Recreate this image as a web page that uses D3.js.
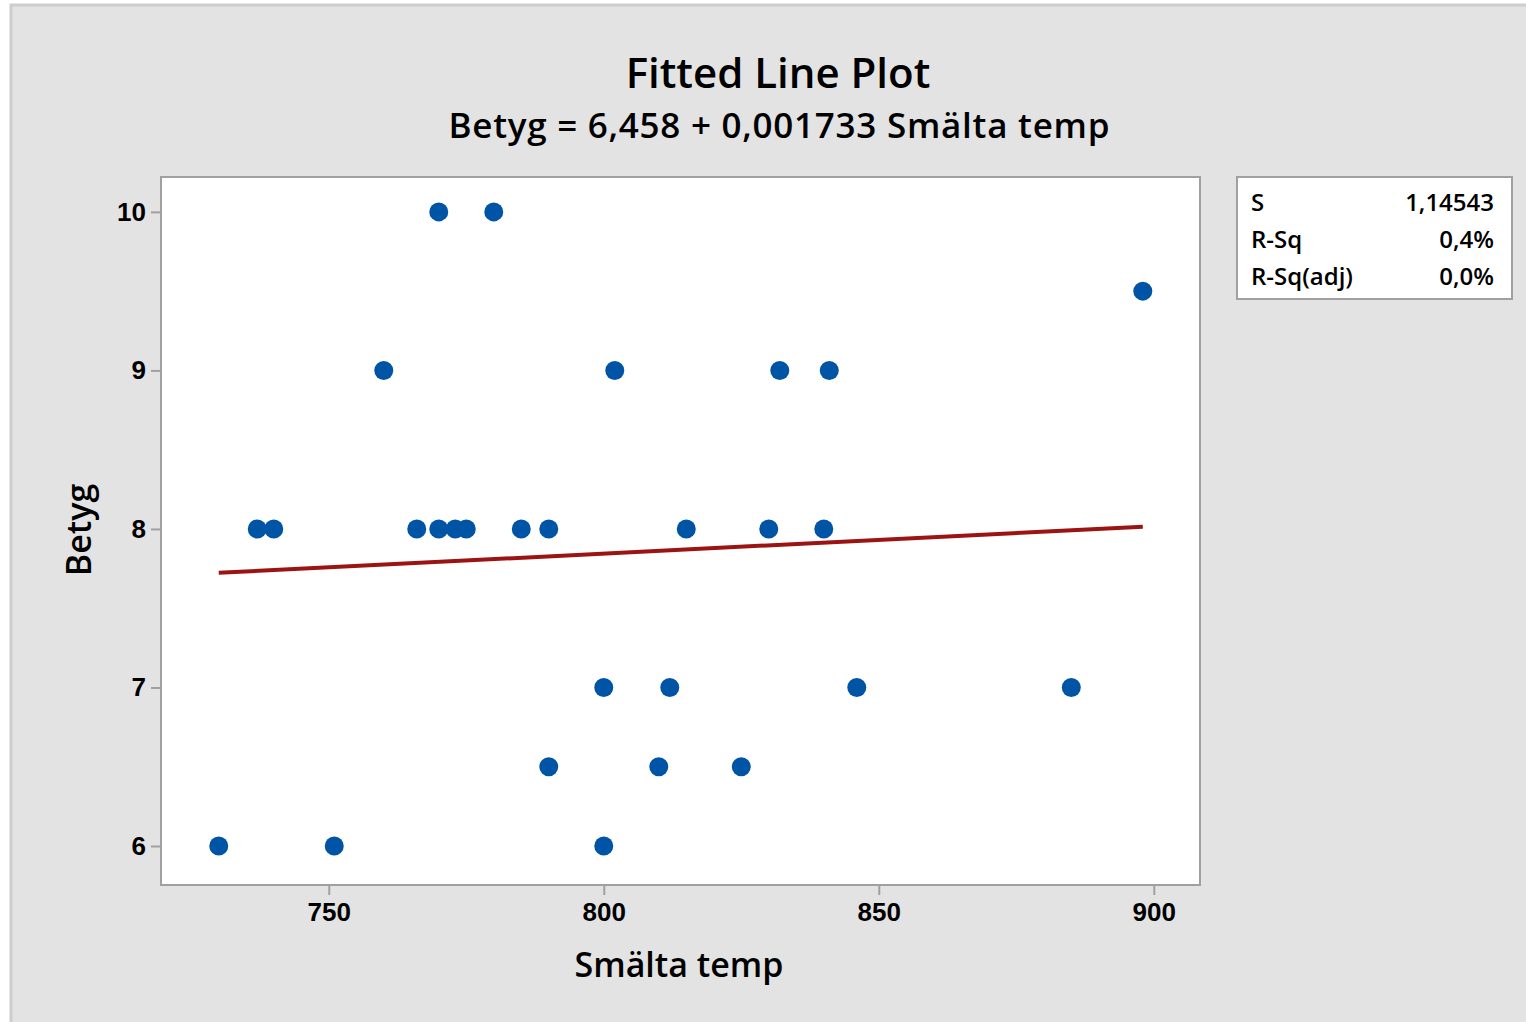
<!DOCTYPE html>
<html><head><meta charset="utf-8">
<script src="https://d3js.org/d3.v7.min.js"></script>
<style>body{margin:0;background:#fff;}svg{display:block;font-family:"Open Sans","Noto Sans",sans-serif;}</style>
</head><body>
<svg id="c" width="1526" height="1022"></svg>
<script>
const temps =  [730,751,737,740,760,766,770,770,773,775,780,785,790,790,800,800,802,810,812,815,825,830,832,840,841,846,885,898];
const grades = [6,  6,  8,  8,  9,  8,  10, 8,  8,  8,  10, 8,  8,  6.5,7,  6,  9,  6.5,7,  8,  6.5,8,  9,  8,  9,  7,  7,  9.5];
const intercept = 6.458, slope = 0.001733;
const xTicks = [750,800,850,900];
const yTicks = [6,7,8,9,10];
const statLabels = ["S","R-Sq","R-Sq(adj)"];
const statValues = ["1,14543","0,4%","0,0%"];

const svg = d3.select("#c");
svg.append("rect").attr("x",11).attr("y",5).attr("width",1520).attr("height",1020)
  .attr("fill","#e3e3e3").attr("stroke","#cdcdcd").attr("stroke-width",3);

const L=161,R=1200,T=177,B=885;
const x = d3.scaleLinear().domain([719.5,908.4]).range([L,R]);
const y = d3.scaleLinear().domain([5.754,10.22]).range([B,T]);

svg.append("rect").attr("x",L).attr("y",T).attr("width",R-L).attr("height",B-T)
  .attr("fill","#fff").attr("stroke","#a0a0a0").attr("stroke-width",2);

const gx = svg.append("g").attr("transform",`translate(0,${B})`)
  .call(d3.axisBottom(x).tickValues(xTicks).tickSize(10).tickPadding(3).tickFormat(d3.format("d")));
const gy = svg.append("g").attr("transform",`translate(${L},0)`)
  .call(d3.axisLeft(y).tickValues(yTicks).tickSize(10).tickPadding(5).tickFormat(d3.format("d")));
[gx,gy].forEach(g=>{
  g.select(".domain").remove();
  g.selectAll(".tick line").attr("stroke","#a0a0a0").attr("stroke-width",2);
  g.selectAll(".tick text").attr("fill","#000").style("font-size","26px").style("font-weight","600");
});
gx.selectAll(".tick text").attr("dy","0.9em");

const xs = d3.extent(temps);
const fit = xs.map(t=>[t, intercept+slope*t]);
svg.append("path").datum(fit)
  .attr("d", d3.line().x(d=>x(d[0])).y(d=>y(d[1])))
  .attr("fill","none").attr("stroke","#9b1313").attr("stroke-width",4);

svg.append("g").selectAll("circle").data(temps.map((t,i)=>[t,grades[i]])).join("circle")
  .attr("cx",d=>x(d[0])).attr("cy",d=>y(d[1])).attr("r",9.5).attr("fill","#0054a6");

svg.append("text").attr("x",778).attr("y",88).attr("text-anchor","middle")
  .style("font-size","42px").style("font-weight","600").text("Fitted Line Plot");
svg.append("text").attr("x",779).attr("y",138).attr("text-anchor","middle")
  .style("font-size","35px").style("font-weight","600").attr("textLength",661).attr("lengthAdjust","spacing")
  .text("Betyg = 6,458 + 0,001733 Smälta temp");

svg.append("text").attr("x",679).attr("y",977).attr("text-anchor","middle")
  .style("font-size","34px").style("font-weight","600").text("Smälta temp");
svg.append("text").attr("transform","translate(91,530) rotate(-90)").attr("text-anchor","middle")
  .style("font-size","34px").style("font-weight","600").text("Betyg");

svg.append("rect").attr("x",1237).attr("y",177).attr("width",275).attr("height",122)
  .attr("fill","#fff").attr("stroke","#a0a0a0").attr("stroke-width",2);
statLabels.forEach((s,i)=>{
  svg.append("text").attr("x",1251).attr("y",211+i*37).style("font-size","24px").style("font-weight","600").text(s);
  svg.append("text").attr("x",1494).attr("y",211+i*37).attr("text-anchor","end").style("font-size","24px").style("font-weight","600").text(statValues[i]);
});
</script>
</body></html>
